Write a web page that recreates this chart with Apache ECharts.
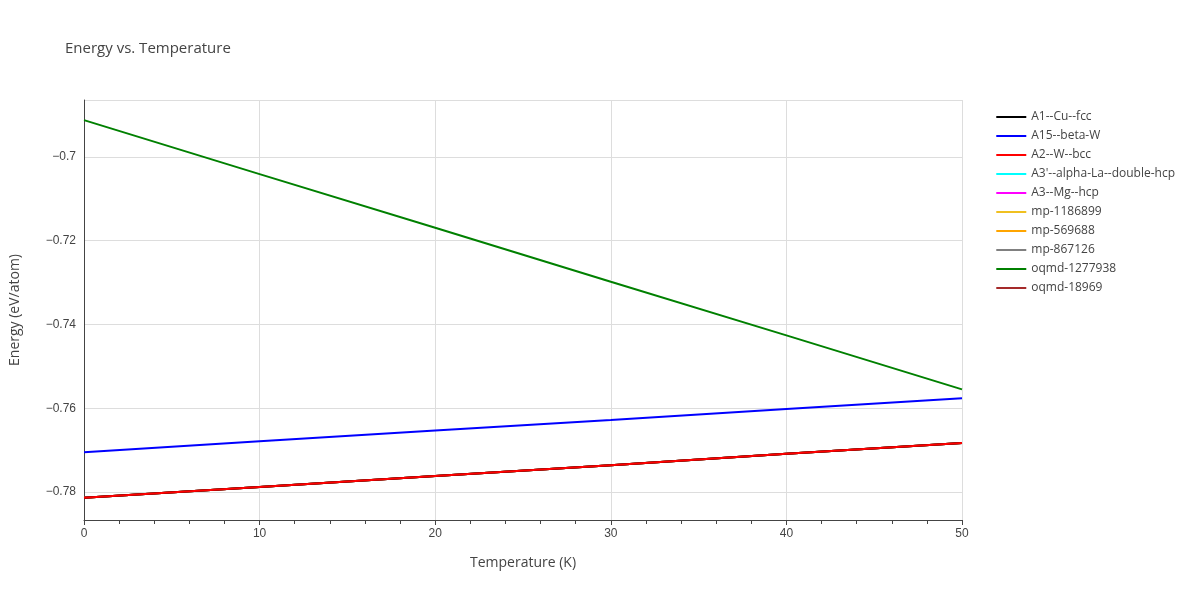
<!DOCTYPE html>
<html><head><meta charset="utf-8">
<script src="https://cdn.jsdelivr.net/npm/echarts@6/dist/echarts.min.js"></script>
<style>html,body{margin:0;padding:0}#c{width:1200px;height:600px}</style>
</head><body><div id="c"></div>
<script>
const temps = [0, 10, 20, 30, 40, 50];
const names = ["A1--Cu--fcc","A15--beta-W","A2--W--bcc","A3'--alpha-La--double-hcp","A3--Mg--hcp","mp-1186899","mp-569688","mp-867126","oqmd-1277938","oqmd-18969"];
const colors = ["#000000","#0000ff","#ff0000","#00ffff","#ff00ff","#f0c020","#ffa500","#808080","#008000","#a52a2a"];
const redVals = [-0.7814, -0.7788, -0.7762, -0.7736, -0.7709, -0.7683];
const blueVals = [-0.7705, -0.7679, -0.7653, -0.7628, -0.7602, -0.7576];
const greenVals = [-0.6912, -0.7041, -0.7169, -0.7298, -0.7426, -0.7555];
const seriesVals = [redVals, blueVals, redVals, redVals, redVals, redVals, redVals, redVals, greenVals, redVals];
const order = [3,4,5,6,7,9,0,2,1,8];
const chart = echarts.init(document.getElementById('c'));
chart.setOption({
  animation:false,
  title:{text:'Energy vs. Temperature',left:60,top:36,textStyle:{fontSize:15,fontWeight:'normal',color:'#444',fontFamily:'Open Sans'}},
  legend:{orient:'vertical',right:20,top:106,itemWidth:30,itemHeight:2,itemGap:7,icon:'rect',
    data:names,textStyle:{fontSize:12,color:'#444',fontFamily:'Open Sans'}},
  grid:{left:81,right:238,top:100,bottom:80},
  xAxis:{type:'value',min:0,max:50,interval:10,name:'Temperature (K)',nameLocation:'middle',nameGap:36,
    nameTextStyle:{fontSize:14,color:'#444',fontFamily:'Open Sans'},
    axisLine:{show:true,onZero:false,lineStyle:{color:'#444'}},axisTick:{show:true,length:5,lineStyle:{color:'#444'}},
    minorTick:{show:true,splitNumber:5,length:4,lineStyle:{color:'#444'}},
    axisLabel:{color:'#444',fontSize:12},splitLine:{show:true,lineStyle:{color:'#ddd'}}},
  yAxis:{type:'value',min:-0.7867,max:-0.6864,splitNumber:5,name:'Energy (eV/atom)',nameLocation:'middle',nameGap:62,
    nameTextStyle:{fontSize:14,color:'#444',fontFamily:'Open Sans'},
    axisLine:{show:true,onZero:false,lineStyle:{color:'#444'}},axisTick:{show:false},
    axisLabel:{color:'#444',fontSize:12,showMinLabel:false,showMaxLabel:false,formatter:v=>{const r=Math.round(v*100)/100;return Math.abs(v-r)<1e-6?String(r).replace('-','−'):'';}},
    splitLine:{show:true,lineStyle:{color:'#ddd'}}},
  series: order.map(i=>({name:names[i],type:'line',showSymbol:false,color:colors[i],lineStyle:{width:2,color:colors[i]},
    data:temps.map((t,k)=>[t,seriesVals[i][k]])}))
});
</script></body></html>
